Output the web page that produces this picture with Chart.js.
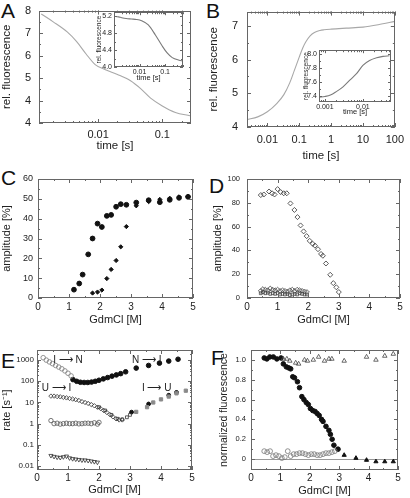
<!DOCTYPE html>
<html>
<head>
<meta charset="utf-8">
<script src="https://cdn.jsdelivr.net/npm/chart.js@4.4.0/dist/chart.umd.min.js"></script>
<style>
  body { margin: 0; background: #fff; width: 410px; height: 498px; position: relative; overflow: hidden;
         font-family: "Liberation Sans", Arial, sans-serif; }
  canvas { position: absolute; }
  .tag { position: absolute; font-size: 21px; line-height: 1; color: #111; }
</style>
</head>
<body>
<div class="tag" style="left:1px;top:0px">A</div>
<div class="tag" style="left:206px;top:0px">B</div>
<div class="tag" style="left:1px;top:167px">C</div>
<div class="tag" style="left:209px;top:175px">D</div>
<div class="tag" style="left:1px;top:350px">E</div>
<div class="tag" style="left:211px;top:347px">F</div>

<canvas id="cA" width="200" height="164" style="left:0;top:-4px"></canvas>
<canvas id="cB" width="205" height="169" style="left:205px;top:-4px"></canvas>
<canvas id="cC" width="205" height="165" style="left:0;top:165px"></canvas>
<canvas id="cD" width="205" height="165" style="left:205px;top:165px"></canvas>
<canvas id="cE" width="205" height="163" style="left:0;top:335px"></canvas>
<canvas id="cF" width="205" height="163" style="left:205px;top:335px"></canvas>
<canvas id="cIA" width="100" height="78" style="left:95px;top:6px"></canvas>
<canvas id="cIB" width="100" height="74" style="left:298px;top:44px"></canvas>

<script>
// ---- panel A: fluorescence trace (main + inset)
const timeA = [0.0013, 0.002, 0.0033, 0.0046, 0.0065, 0.009, 0.013, 0.02, 0.032, 0.046, 0.065, 0.1, 0.16, 0.27];
const fluorA = [7.85, 7.5, 7.05, 6.63, 6.07, 5.6, 5.37, 5.16, 4.88, 4.53, 4.12, 3.76, 3.47, 3.32];
const fluorTicksA = [3, 4, 5, 6, 7, 8];
const fluorLabelsA = ['4', '4', '5', '6', '7', '8'];
const timeTicksA = [0.01, 0.1];

const timeInsetA = [0.001, 0.0015, 0.002, 0.003, 0.0048, 0.0076, 0.012, 0.022, 0.041, 0.076, 0.12, 0.19, 0.35, 0.5];
const fluorInsetA = [5.19, 5.18, 5.16, 5.14, 5.13, 5.12, 5.09, 4.99, 4.76, 4.5, 4.33, 4.22, 4.16, 4.14];
const insetTicksA = [4.0, 4.4, 4.8, 5.2];

// ---- panel B
const timeB = [0.0023, 0.005, 0.01, 0.02, 0.033, 0.05, 0.07, 0.1, 0.13, 0.16, 0.22, 0.3, 0.45, 0.6, 1, 3, 10, 30, 100];
const fluorB = [4.22, 4.3, 4.45, 4.7, 4.96, 5.3, 5.67, 6.07, 6.35, 6.52, 6.7, 6.8, 6.86, 6.88, 6.9, 6.93, 6.96, 7.03, 7.13];
const fluorTicksB = [4, 5, 6, 7];
const timeTicksB = [0.01, 0.1, 1, 10, 100];

const timeInsetB = [0.0007, 0.001, 0.0014, 0.002, 0.003, 0.0046, 0.0068, 0.01, 0.015, 0.023, 0.034, 0.05];
const fluorInsetB = [7.38, 7.39, 7.41, 7.46, 7.53, 7.63, 7.72, 7.84, 7.91, 7.95, 7.97, 7.98];
const insetTicksB = [7.4, 7.6, 7.8, 8.0];
const insetTimeTicksB = [0.001, 0.01];

// ---- shared denaturant ticks
const gdmTicks = [0, 1, 2, 3, 4, 5];

// ---- panel C: amplitudes
const gdmCcirc = [1.16, 1.33, 1.44, 1.62, 1.76, 1.92, 2.06, 2.22, 2.36, 2.52, 2.67, 2.85, 3.17, 3.57, 3.93, 4.25, 4.55, 4.84];
const ampCcirc = [4.2, 7.3, 11.8, 22, 30, 37.5, 35.8, 41.4, 41.9, 46, 47.3, 47, 48.1, 49.3, 48.3, 49.5, 50.5, 51];
const gdmCdia = [1.76, 1.92, 2.06, 2.22, 2.36, 2.52, 2.67, 2.85, 3.17, 3.57, 3.93, 4.25, 4.55, 4.84];
const ampCdia = [2.5, 3, 4, 9.8, 14.4, 18.9, 25.8, 36, 46.5, 48.6, 49.7, 50.3, 51, 51.2];
const ampTicksC = [0, 10, 20, 30, 40, 50, 60];

// ---- panel D
const gdmDtop = [0.45, 0.55, 0.72, 0.82, 0.9, 1.0, 1.1, 1.2, 1.3, 1.42, 1.55, 1.65, 1.75, 1.85, 1.95, 2.05, 2.15, 2.22, 2.32, 2.42, 2.48, 2.58, 2.72, 2.82, 2.92, 3.0];
const ampDtop = [86.5, 87, 89.5, 88, 87, 91.5, 89, 88, 88, 79.5, 74, 68, 61, 56, 52, 48, 45.5, 44, 41, 37, 35.5, 29, 19.5, 12.5, 9, 5];
const gdmDlow = [0.45, 0.52, 0.6, 0.68, 0.76, 0.84, 0.92, 1.0, 1.08, 1.16, 1.24, 1.32, 1.4, 1.48, 1.56, 1.64, 1.72, 1.8, 1.88, 1.96];
const ampDlow1 = [6, 7.5, 7, 6.5, 8, 7, 6.5, 7, 6, 6.5, 6, 5.5, 6.5, 7, 6, 7, 6.5, 6, 5.5, 5];
const ampDlow2 = [4, 5, 4, 4.5, 3.5, 4, 3.5, 4, 3, 3.5, 3, 3.5, 2.5, 3, 3.5, 3, 4, 3.5, 3, 3];
const ampTicksD = [0, 20, 40, 60, 80, 100];

// ---- panel E: rates
const gdmEin = [0.2, 0.3, 0.4, 0.5, 0.6, 0.7, 0.8, 0.9, 1.0, 1.1];
const rateEin = [1300, 1000, 820, 680, 560, 470, 390, 310, 240, 180];
const gdmEfill = [1.16, 1.28, 1.4, 1.52, 1.64, 1.76, 1.88, 2.0, 2.14, 2.28, 2.42, 2.56, 2.7, 2.86, 3.2, 3.6, 3.95, 4.25, 4.55];
const rateEfill = [120, 100, 90, 88, 88, 92, 100, 112, 130, 150, 175, 200, 230, 280, 420, 560, 720, 900, 1100];
const gdmEui = [0.45, 0.55, 0.65, 0.75, 0.85, 0.95, 1.05, 1.15, 1.25, 1.35, 1.45, 1.55, 1.65, 1.75, 1.85, 1.95, 2.05, 2.15, 2.25, 2.35, 2.45, 2.55, 2.65, 2.75];
const rateEui = [20, 20, 19, 18.5, 17.5, 16.5, 15.5, 14.5, 13.5, 12.5, 11, 10, 9, 8, 7, 6, 5.2, 4.2, 3.4, 2.7, 2.1, 1.7, 1.5, 1.5];
const gdmEsq = [2.0, 2.2, 2.4, 2.6, 2.75, 2.9, 3.0];
const rateEsq = [6, 4.2, 2.6, 1.7, 1.6, 2.0, 2.6];
const gdmEiu = [3.2, 3.55, 3.75, 4.0, 4.25, 4.5, 4.8];
const rateEiu = [3.6, 6, 10, 14, 19, 27, 36];
const gdmEiuDark = [3.05, 3.6, 4.25, 4.5];
const rateEiuDark = [3.5, 8.5, 22, 30];
const gdmEone = [0.45, 0.55, 0.65, 0.75, 0.85, 0.95, 1.05, 1.15, 1.25, 1.35, 1.45, 1.55, 1.65, 1.75, 1.85, 1.95, 2.0];
const rateEone = [1.4, 1.0, 1.05, 0.95, 1.0, 1.05, 1.0, 1.0, 1.05, 0.98, 1.0, 1.05, 1.05, 1.0, 1.1, 0.95, 1.15];
const gdmEslow = [0.45, 0.55, 0.65, 0.75, 0.85, 0.95, 1.05, 1.15, 1.25, 1.35, 1.45, 1.55, 1.65, 1.75, 1.85, 1.95];
const rateEslow = [0.031, 0.028, 0.026, 0.025, 0.027, 0.029, 0.024, 0.022, 0.021, 0.02, 0.019, 0.019, 0.018, 0.017, 0.016, 0.015];
const rateTicksE = [0.01, 0.1, 1, 10, 100, 1000];
const notesE = [
  { text: 'I \u27F6 N', x: 1.0, y: 1000 },
  { text: 'N \u27F6 I', x: 3.54, y: 1000 },
  { text: 'U \u27F6 I', x: 0.63, y: 45 },
  { text: 'I \u27F6 U', x: 3.86, y: 45 }
];

// ---- panel F: normalized fluorescence
const gdmFfill = [0.45, 0.54, 0.64, 0.76, 0.88, 1.02, 1.1, 1.2, 1.28, 1.35, 1.42, 1.48, 1.58, 1.65, 1.73, 1.8, 1.88, 1.95, 2.02, 2.1, 2.18, 2.25, 2.32, 2.4, 2.45, 2.55, 2.65, 2.7, 2.76, 2.82, 2.96];
const valFfill = [1.02, 1.01, 1.03, 1.03, 1.01, 1.02, 0.96, 0.93, 0.92, 0.91, 0.83, 0.82, 0.78, 0.72, 0.63, 0.6, 0.57, 0.55, 0.51, 0.49, 0.48, 0.46, 0.44, 0.4, 0.38, 0.33, 0.29, 0.25, 0.2, 0.14, 0.1];
const gdmFtri = [1.1, 1.22, 1.32, 1.52, 1.62, 1.82, 1.92, 2.12, 2.3, 2.5, 2.65, 2.75, 3.17, 3.93, 4.25, 4.55, 4.84];
const valFtri = [1.01, 1.01, 0.99, 0.97, 0.96, 1.0, 0.99, 1.0, 1.03, 0.99, 1.01, 1.01, 0.99, 1.03, 1.0, 1.04, 1.06];
const gdmFtriFill = [3.17, 3.57, 3.93, 4.25, 4.55, 4.84];
const valFtriFill = [0.04, 0.01, -0.01, -0.025, -0.025, -0.025];
const gdmFopen = [0.45, 0.55, 0.65, 0.75, 0.85, 0.95, 1.05, 1.15, 1.25, 1.35, 1.45, 1.55, 1.65, 1.75, 1.85, 1.95, 2.05, 2.15, 2.25, 2.35, 2.45, 2.55, 2.65, 2.75, 2.85];
const valFopen = [0.08, 0.07, 0.08, 0.03, 0.04, 0.03, 0.01, 0.02, 0.08, 0.03, 0.05, 0.05, 0.06, 0.06, 0.05, 0.04, 0.05, 0.05, 0.04, 0.04, 0.05, 0.06, 0.06, 0.07, 0.08];
const normTicksF = [0, 0.2, 0.4, 0.6, 0.8, 1.0];

const FONT = '"Liberation Sans", Arial, sans-serif';
const pts = (xs, ys) => xs.map((x, i) => ({ x, y: ys[i] }));

// box around the plot area with inward ticks on all four sides
const frame = {
  id: 'frame',
  beforeDraw(chart, args, o) {
    if (!o.fill) return;
    const a = chart.chartArea, c = chart.ctx;
    c.save();
    c.fillStyle = o.fill;
    c.fillRect(a.left, a.top, a.right - a.left, a.bottom - a.top);
    c.restore();
  },
  afterDraw(chart, args, o) {
    const a = chart.chartArea, c = chart.ctx;
    const L = o.len || 4, l = o.minorLen || 2;
    c.save();
    c.strokeStyle = '#666';
    c.lineWidth = 1;
    c.strokeRect(Math.round(a.left) + 0.5, Math.round(a.top) + 0.5,
                 Math.round(a.right - a.left) - 1, Math.round(a.bottom - a.top) - 1);
    const minors = (s, step) => {
      const out = [];
      if (s.type === 'logarithmic') {
        for (let e = Math.floor(Math.log10(s.min)); e <= Math.ceil(Math.log10(s.max)); e++)
          for (let d = 1; d <= 9; d++) {
            const v = d * Math.pow(10, e);
            if (v >= s.min && v <= s.max) out.push(v);
          }
      } else if (step) {
        for (let v = Math.ceil(s.min / step - 1e-9) * step; v <= s.max + 1e-9; v += step) out.push(v);
      }
      return out;
    };
    const xs = chart.scales.x, ys = chart.scales.y;
    c.beginPath();
    const xt = (v, len) => {
      const p = Math.round(xs.getPixelForValue(v)) + 0.5;
      c.moveTo(p, a.bottom); c.lineTo(p, a.bottom - len);
      c.moveTo(p, a.top); c.lineTo(p, a.top + len);
    };
    const yt = (v, len) => {
      const p = Math.round(ys.getPixelForValue(v)) + 0.5;
      c.moveTo(a.left, p); c.lineTo(a.left + len, p);
      c.moveTo(a.right, p); c.lineTo(a.right - len, p);
    };
    minors(xs, o.xStep).forEach(v => xt(v, l));
    minors(ys, o.yStep).forEach(v => yt(v, l));
    xs.ticks.forEach(t => xt(t.value, L));
    ys.ticks.forEach(t => yt(t.value, L));
    c.stroke();
    c.restore();
  }
};

// text labels placed at data positions (panel E)
const notes = {
  id: 'notes',
  afterDatasetsDraw(chart, args, o) {
    if (!o.items || !o.items.length) return;
    const c = chart.ctx, xs = chart.scales.x, ys = chart.scales.y;
    c.save();
    c.font = '10px ' + FONT;
    c.fillStyle = '#222';
    c.textAlign = 'center';
    c.textBaseline = 'middle';
    o.items.forEach(n => c.fillText(n.text, xs.getPixelForValue(n.x), ys.getPixelForValue(n.y)));
    c.restore();
  }
};

function axis(o) {
  return {
    type: o.log ? 'logarithmic' : 'linear',
    min: o.min, max: o.max,
    grid: {
      display: !!o.zeroLine, drawTicks: false, lineWidth: 1,
      color: ctx => (o.zeroLine && ctx.tick && ctx.tick.value === 0) ? '#999' : 'rgba(0,0,0,0)'
    },
    border: { display: false },
    ticks: {
      autoSkip: false, maxRotation: 0, padding: o.tickPad, color: '#222',
      font: { family: FONT, size: o.tickSize },
      callback: o.fmt
    },
    title: {
      display: true, text: o.title, color: '#222',
      font: { family: FONT, size: o.titleSize },
      padding: o.titlePad
    },
    afterBuildTicks: s => { s.ticks = o.ticks.map(v => ({ value: v })); },
    afterFit: s => { if (s.isHorizontal()) s.height = o.size; else s.width = o.size; }
  };
}

function panel(id, datasets, o) {
  return new Chart(document.getElementById(id), {
    type: 'scatter',
    data: { datasets },
    options: {
      responsive: false, animation: false, devicePixelRatio: 1,
      layout: { padding: { top: o.pad[0], right: o.pad[1], bottom: 0, left: 0 } },
      plugins: {
        legend: { display: false }, tooltip: { enabled: false },
        frame: o.frame, notes: { items: o.notes || [] }
      },
      scales: { x: axis(o.x), y: axis(o.y) }
    },
    plugins: [frame, notes]
  });
}

const curve = (xs, ys, color, w) => ({
  data: pts(xs, ys), showLine: true, pointRadius: 0, borderColor: color, borderWidth: w,
  cubicInterpolationMode: 'monotone'
});
const mark = (xs, ys, style, o) => Object.assign({
  data: pts(xs, ys), pointStyle: style, pointRadius: 2.3, borderWidth: 1,
  borderColor: '#111', backgroundColor: '#111'
}, o);
const open = 'rgba(255,255,255,0)';
const fmtNum = v => String(v);
const fmt1 = v => v.toFixed(1);

// A
panel('cA', [curve(timeA, fluorA, '#a8a8a8', 1.1)], {
  pad: [9, 9], frame: { yStep: 0.5 },
  x: { log: true, min: 0.0012, max: 0.28, ticks: timeTicksA, fmt: fmtNum, tickSize: 11, tickPad: 5,
       title: 'time [s]', titleSize: 11.5, titlePad: { top: 0, bottom: 7 }, size: 37 },
  y: { min: 3, max: 8, ticks: fluorTicksA, fmt: (v, i) => fluorLabelsA[i], tickSize: 11, tickPad: 8,
       title: 'rel. fluorescence', titleSize: 11.5, titlePad: { top: 0, bottom: 0 }, size: 39 }
});

// B
panel('cB', [curve(timeB, fluorB, '#a8a8a8', 1.1)], {
  pad: [9, 11], frame: { yStep: 0.5 },
  x: { log: true, min: 0.0023, max: 100, ticks: timeTicksB, fmt: fmtNum, tickSize: 11, tickPad: 6,
       title: 'time [s]', titleSize: 11.5, titlePad: { top: 0, bottom: 2 }, size: 38 },
  y: { min: 4, max: 7.42, ticks: fluorTicksB, fmt: fmtNum, tickSize: 11, tickPad: 9,
       title: 'rel. fluorescence', titleSize: 11.5, titlePad: { top: 2, bottom: 0 }, size: 42 }
});

// C
panel('cC', [
  mark(gdmCcirc, ampCcirc, 'circle', { pointRadius: 2.4 }),
  mark(gdmCdia, ampCdia, 'rectRot', { pointRadius: 2.1 })
], {
  pad: [14, 12], frame: { xStep: 0.5, yStep: 5 },
  x: { min: 0, max: 5, ticks: gdmTicks, fmt: fmtNum, tickSize: 10, tickPad: 3,
       title: 'GdmCl [M]', titleSize: 11, titlePad: { top: 0, bottom: 3 }, size: 32 },
  y: { min: 0, max: 60, ticks: ampTicksC, fmt: fmtNum, tickSize: 9, tickPad: 5,
       title: 'amplitude [%]', titleSize: 11, titlePad: { top: 0, bottom: 0 }, size: 38 }
});

// D
panel('cD', [
  mark(gdmDtop, ampDtop, 'rectRot', { backgroundColor: open, borderColor: '#333', borderWidth: 0.8, pointRadius: 2.5 }),
  mark(gdmDlow, ampDlow1, 'rectRot', { backgroundColor: open, borderColor: '#444', borderWidth: 0.8, pointRadius: 2.4 }),
  mark(gdmDlow, ampDlow2, 'rect', { backgroundColor: open, borderColor: '#444', borderWidth: 0.8, pointRadius: 2.0 })
], {
  pad: [14, 10], frame: { xStep: 0.5, yStep: 10 },
  x: { min: 0, max: 5, ticks: gdmTicks, fmt: fmtNum, tickSize: 10, tickPad: 3,
       title: 'GdmCl [M]', titleSize: 11, titlePad: { top: 0, bottom: 3 }, size: 32 },
  y: { min: 0, max: 100, ticks: ampTicksD, fmt: fmtNum, tickSize: 7.5, tickPad: 7,
       title: 'amplitude [%]', titleSize: 11, titlePad: { top: 6, bottom: 0 }, size: 42 }
});

// E
panel('cE', [
  mark(gdmEin, rateEin, 'circle', { backgroundColor: open, borderColor: '#888', borderWidth: 0.9 }),
  mark(gdmEfill, rateEfill, 'circle', { pointRadius: 2.3 }),
  mark(gdmEui, rateEui, 'rectRot', { backgroundColor: open, borderColor: '#333', borderWidth: 0.8, pointRadius: 2.2 }),
  mark(gdmEsq, rateEsq, 'rect', { backgroundColor: open, borderColor: '#333', borderWidth: 0.8, pointRadius: 2.0 }),
  mark(gdmEiu, rateEiu, 'rect', { backgroundColor: '#8a8a8a', borderColor: '#8a8a8a', pointRadius: 2.3 }),
  mark(gdmEiuDark, rateEiuDark, 'circle', { pointRadius: 1.9 }),
  mark(gdmEone, rateEone, 'circle', { backgroundColor: open, borderColor: '#555', borderWidth: 0.8, pointRadius: 2.2 }),
  mark(gdmEslow, rateEslow, 'triangle', { backgroundColor: open, borderColor: '#333', borderWidth: 0.8, rotation: 180, pointRadius: 2.4 })
], {
  pad: [15, 13], frame: { xStep: 0.5 }, notes: notesE,
  x: { min: 0, max: 5, ticks: gdmTicks, fmt: fmtNum, tickSize: 10, tickPad: 2,
       title: 'GdmCl [M]', titleSize: 11, titlePad: { top: 0, bottom: 1 }, size: 28 },
  y: { log: true, min: 0.0065, max: 3000, ticks: rateTicksE, fmt: fmtNum, tickSize: 8, tickPad: 3,
       title: 'rate [s\u207B\u00B9]', titleSize: 11, titlePad: { top: 0, bottom: 0 }, size: 37 }
});

// F
panel('cF', [
  mark(gdmFopen, valFopen, 'circle', { backgroundColor: open, borderColor: '#777', borderWidth: 0.8, pointRadius: 2.4 }),
  mark(gdmFtri, valFtri, 'triangle', { backgroundColor: open, borderColor: '#444', borderWidth: 0.8, pointRadius: 2.6 }),
  mark(gdmFfill, valFfill, 'circle', { pointRadius: 2.3 }),
  mark(gdmFtriFill, valFtriFill, 'triangle', { pointRadius: 2.4 })
], {
  pad: [15, 12], frame: { xStep: 0.5, yStep: 0.1 },
  x: { min: 0, max: 5, ticks: gdmTicks, fmt: fmtNum, tickSize: 10, tickPad: 2,
       title: 'GdmCl [M]', titleSize: 11, titlePad: { top: 0, bottom: 0 }, size: 28 },
  y: { min: -0.11, max: 1.1, ticks: normTicksF, fmt: v => (v === 0 ? '0' : v.toFixed(1)), tickSize: 7.5, tickPad: 5,
       zeroLine: true, title: 'normalized fluorescence', titleSize: 10.5, titlePad: { top: 13, bottom: 0 }, size: 46 }
});

// inset A
panel('cIA', [curve(timeInsetA, fluorInsetA, '#7a7a7a', 1.1)], {
  pad: [6, 12], frame: { fill: '#fff', yStep: 0.2, len: 3, minorLen: 2 },
  x: { log: true, min: 0.001, max: 0.5, ticks: timeTicksA, fmt: fmtNum, tickSize: 7, tickPad: 1,
       title: 'time [s]', titleSize: 7.5, titlePad: { top: 0, bottom: 1.5 }, size: 17 },
  y: { min: 4.0, max: 5.29, ticks: insetTicksA, fmt: fmt1, tickSize: 7, tickPad: 2,
       title: 'rel. fluorescence', titleSize: 6.5, titlePad: { top: 0, bottom: 0 }, size: 19 }
});

// inset B
panel('cIB', [curve(timeInsetB, fluorInsetB, '#7a7a7a', 1.1)], {
  pad: [6, 7], frame: { fill: '#fff', yStep: 0.1, len: 3, minorLen: 2 },
  x: { log: true, min: 0.0007, max: 0.055, ticks: insetTimeTicksB, fmt: fmtNum, tickSize: 7, tickPad: 1,
       title: 'time [s]', titleSize: 7.5, titlePad: { top: 0, bottom: 1.5 }, size: 16 },
  y: { min: 7.31, max: 8.06, ticks: insetTicksB, fmt: fmt1, tickSize: 7, tickPad: 2,
       title: 'rel. fluorescence', titleSize: 6.5, titlePad: { top: 4, bottom: 0 }, size: 21 }
});
</script>
</body>
</html>
